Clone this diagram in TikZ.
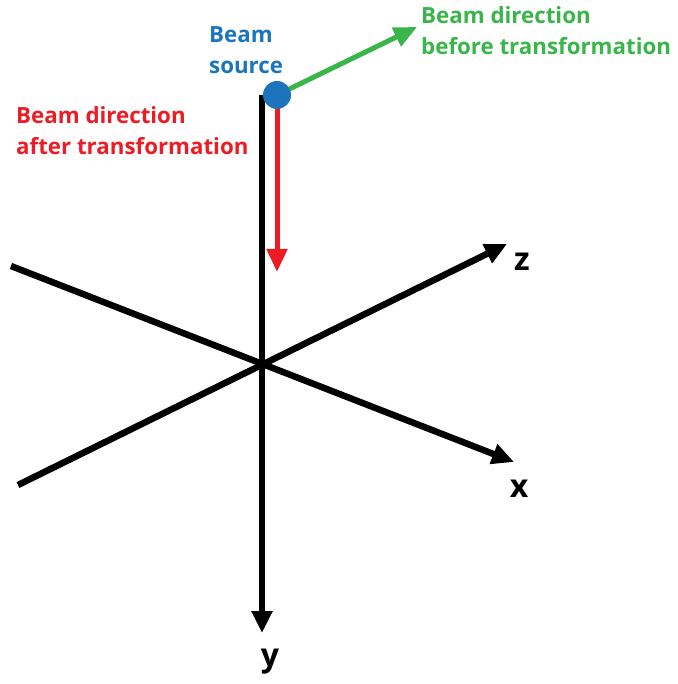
\documentclass[tikz,border=0pt]{standalone}
\usepackage{fontspec}
\setmainfont{Open Sans}
\usetikzlibrary{arrows.meta,positioning}
\definecolor{SourceBlue}{HTML}{1C75BC}
\definecolor{BeforeGreen}{HTML}{39B54A}
\definecolor{AfterRed}{HTML}{ED1C24}

\begin{document}
\begin{tikzpicture}[x=1pt, y=-1pt,
    axis/.style={line width=6.5pt, -{Triangle[length=22pt, width=20pt]}},
    beam/.style={line width=5pt, -{Triangle[length=23pt, width=20pt]}},
    caption/.style={font=\bfseries\fontsize{22.3}{31}\selectfont, align=left, inner sep=0pt, anchor=west},
    axislabel/.style={font=\bfseries\fontsize{32}{32}\selectfont, inner sep=0pt}]
    \useasboundingbox (0,0) rectangle (677,684);
    % axes
    \coordinate (o) at (262,365);
    \coordinate (ytop) at (262,95);
    \coordinate (ytip) at (262,633);
    \coordinate (zneg) at (18,485);
    \coordinate (ztip) at (507,244);
    \coordinate (xneg) at (11,266);
    \coordinate (xtip) at (514,462);
    \draw[axis] (zneg) -- (ztip);
    \draw[axis] (xneg) -- (xtip);
    \draw[axis] (ytop) -- (ytip);
    \node[axislabel] (zlab) at (522,262) {z};
    \node[axislabel] (xlab) at (519,489) {x};
    \node[axislabel] (ylab) at (270,662) {y};
    % beam
    \coordinate (redtip) at (277,272);
    \coordinate (greentip) at (417,27);
    \draw[beam, color=AfterRed] (277,100) -- (redtip);
    \draw[beam, color=BeforeGreen] (277,95) -- (greentip);
    \node[circle, fill=SourceBlue, minimum size=28pt, inner sep=0pt] (src) at (277,95) {};
    \node[caption, text=SourceBlue] (srclab) at (209,50) {Beam\\source};
    \node[caption, text=BeforeGreen] (before) at (421,31) {Beam direction\\before transformation};
    \node[caption, text=AfterRed] (after) at (16,131) {Beam direction\\after transformation};
\end{tikzpicture}
\end{document}
